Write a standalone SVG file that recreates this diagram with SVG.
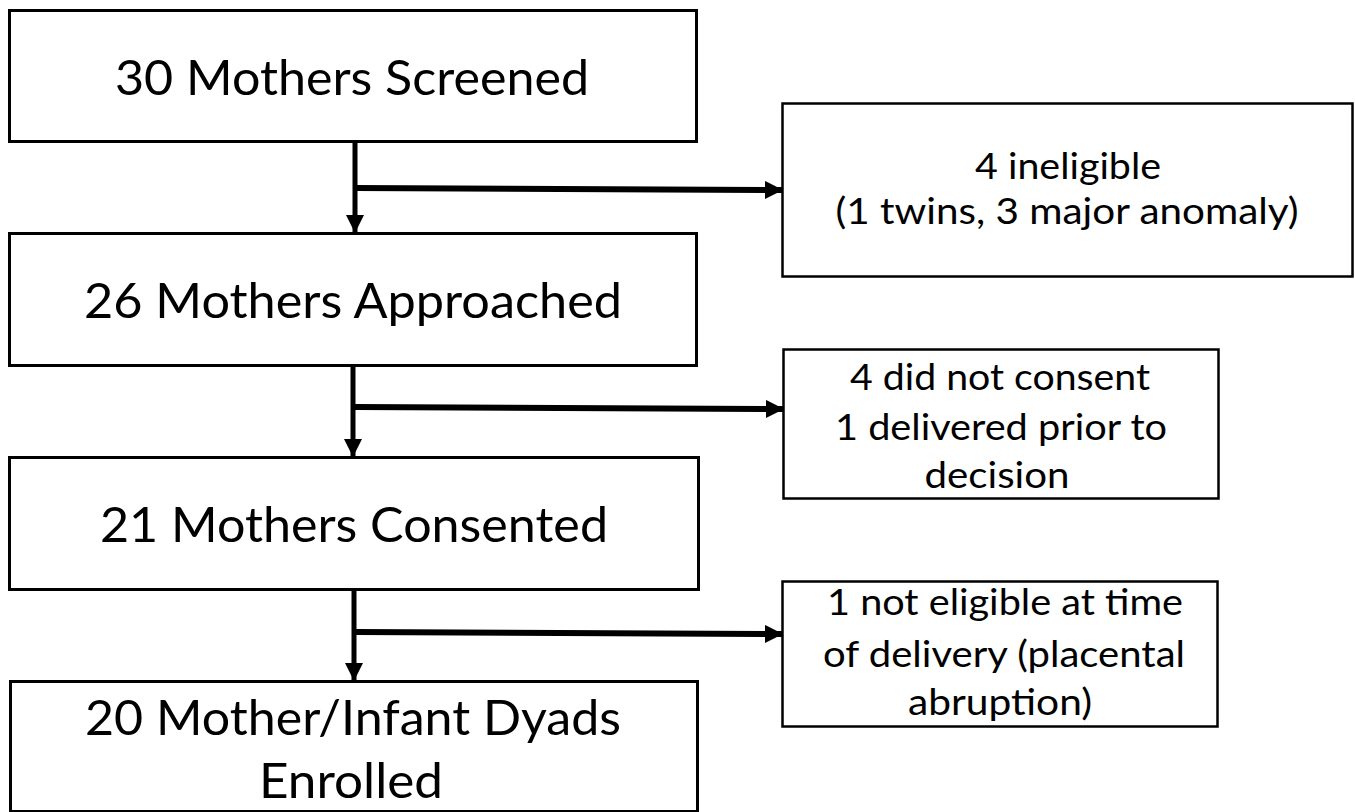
<svg xmlns="http://www.w3.org/2000/svg" width="1355" height="812" viewBox="0 0 1355 812">
<style>
.box{fill:#fff;stroke:#000;stroke-width:3}
.sbox{fill:#fff;stroke:#000;stroke-width:2.5}
.t{font-family:Lato,"Liberation Sans",sans-serif;fill:#000;text-anchor:middle}
.big{font-size:48px}
.sm{font-size:37px}
.v{stroke:#000;stroke-width:5;fill:none}
.h{stroke:#000;stroke-width:6;fill:none}
</style>
<defs>
<marker id="ah" markerUnits="userSpaceOnUse" markerWidth="20" markerHeight="20" refX="18" refY="9" orient="auto">
<path d="M0,0 L18,9 L0,18 Z" fill="#000"/>
</marker>
</defs>
<rect width="1355" height="812" fill="#fff"/>
<g id="connectors">
<line class="v" x1="355" y1="142" x2="355" y2="233" marker-end="url(#ah)"/>
<line class="h" x1="355" y1="188" x2="783" y2="190" marker-end="url(#ah)"/>
<line class="v" x1="353" y1="366" x2="353" y2="457" marker-end="url(#ah)"/>
<line class="h" x1="355" y1="407" x2="784" y2="409" marker-end="url(#ah)"/>
<line class="v" x1="354" y1="590" x2="354" y2="681" marker-end="url(#ah)"/>
<line class="h" x1="356" y1="632" x2="783" y2="634" marker-end="url(#ah)"/>
</g>
<g id="n1">
<rect class="box" x="9.5" y="10.5" width="687" height="131"/>
<text class="t big" x="352" y="95" textLength="474" lengthAdjust="spacingAndGlyphs">30 Mothers Screened</text>
</g>
<g id="n2">
<rect class="box" x="9.5" y="233.5" width="687" height="132"/>
<text class="t big" x="353" y="318" textLength="538" lengthAdjust="spacingAndGlyphs">26 Mothers Approached</text>
</g>
<g id="n3">
<rect class="box" x="9.5" y="457.5" width="689" height="132"/>
<text class="t big" x="354" y="542" textLength="508" lengthAdjust="spacingAndGlyphs">21 Mothers Consented</text>
</g>
<g id="n4">
<rect class="box" x="10.5" y="681.5" width="687" height="130"/>
<text class="t big" x="353" y="735" textLength="536" lengthAdjust="spacingAndGlyphs">20 Mother/Infant Dyads</text>
<text class="t big" x="351" y="798" textLength="184" lengthAdjust="spacingAndGlyphs">Enrolled</text>
</g>
<g id="r1">
<rect class="sbox" x="782.5" y="103.5" width="570" height="173"/>
<text class="t sm" x="1068" y="179" textLength="186" lengthAdjust="spacingAndGlyphs">4 ineligible</text>
<text class="t sm" x="1067" y="224" textLength="463" lengthAdjust="spacingAndGlyphs">(1 twins, 3 major anomaly)</text>
</g>
<g id="r2">
<rect class="sbox" x="783.5" y="349.5" width="435" height="149"/>
<text class="t sm" x="1000" y="390" textLength="300" lengthAdjust="spacingAndGlyphs">4 did not consent</text>
<text class="t sm" x="1001" y="440" textLength="332" lengthAdjust="spacingAndGlyphs">1 delivered prior to</text>
<text class="t sm" x="997" y="488" textLength="145" lengthAdjust="spacingAndGlyphs">decision</text>
</g>
<g id="r3">
<rect class="sbox" x="782.5" y="581.5" width="435" height="145"/>
<text class="t sm" x="1005" y="615" textLength="356" lengthAdjust="spacingAndGlyphs">1 not eligible at time</text>
<text class="t sm" x="1004" y="667" textLength="362" lengthAdjust="spacingAndGlyphs">of delivery (placental</text>
<text class="t sm" x="1000" y="715" textLength="184" lengthAdjust="spacingAndGlyphs">abruption)</text>
</g>
</svg>
